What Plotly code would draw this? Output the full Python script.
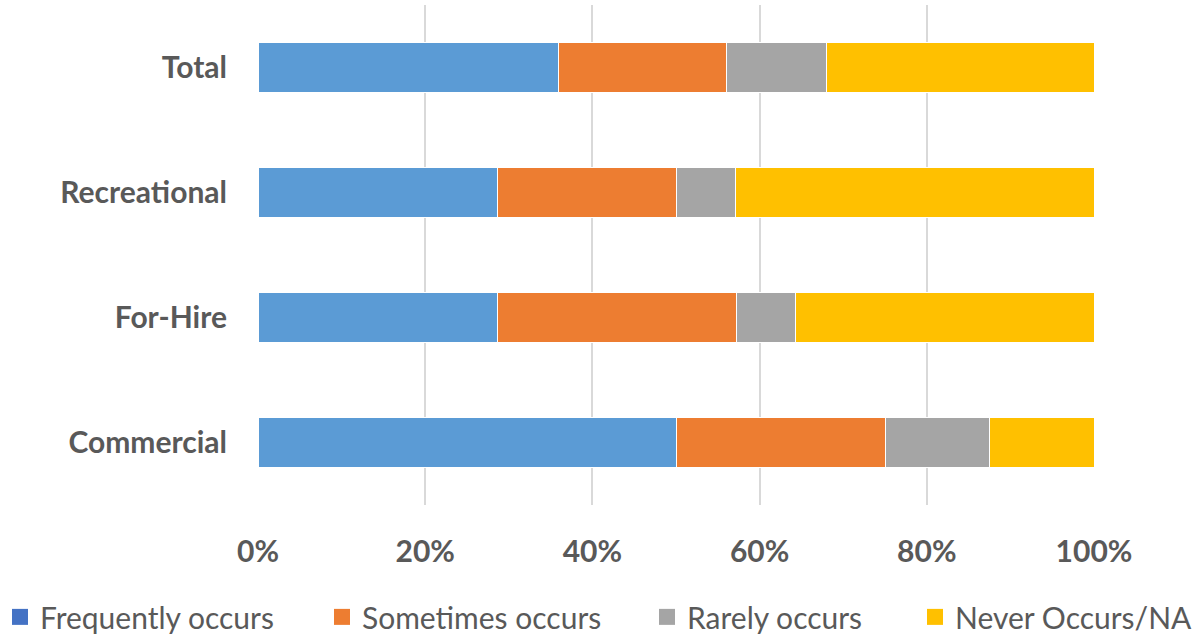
import plotly.graph_objects as go

categories = ["Commercial", "For-Hire", "Recreational", "Total"]
series_names = ["Frequently occurs", "Sometimes occurs", "Rarely occurs", "Never Occurs/NA"]
frequently = [50.0, 28.6, 28.6, 36.0]
sometimes = [25.0, 28.6, 21.4, 20.0]
rarely = [12.5, 7.1, 7.1, 12.0]
never = [12.5, 35.7, 42.9, 32.0]
bar_colors = ["#5B9BD5", "#ED7D31", "#A5A5A5", "#FFC000"]
legend_colors = ["#4472C4", "#ED7D31", "#A5A5A5", "#FFC000"]
legend_text_x = [40, 362, 687, 955]

FONT = "Lato"
GRAY = "#595959"

fig = go.Figure()
for name, vals, col in zip(series_names, [frequently, sometimes, rarely, never], bar_colors):
    fig.add_trace(go.Bar(
        y=categories, x=vals, name=name, orientation="h",
        marker=dict(color=col, line=dict(color="white", width=1)),
        showlegend=False, hoverinfo="x+y+name",
    ))

legend_layout = {}
for i, (name, col, tx) in enumerate(zip(series_names, legend_colors, legend_text_x)):
    lname = "legend" if i == 0 else f"legend{i+1}"
    fig.add_trace(go.Scatter(
        y=[None], x=[None], name=name, mode="markers",
        marker=dict(color=col, symbol="square", size=16, line=dict(width=0)),
        showlegend=True, legend=lname, hoverinfo="skip",
    ))
    legend_layout[lname] = dict(
        xref="container", yref="container",
        x=max(tx - 40, 0) / 1198, xanchor="left", y=0.027, yanchor="middle",
        font=dict(family=FONT, size=30, color=GRAY),
        bgcolor="rgba(0,0,0,0)", itemsizing="trace",
    )

fig.update_layout(
    barmode="stack",
    bargap=0.6,
    width=1198, height=634,
    margin=dict(l=258, r=104, t=5, b=129, autoexpand=False),
    plot_bgcolor="white", paper_bgcolor="white",
    font=dict(family=FONT, color=GRAY),
    xaxis=dict(
        type="linear",
        range=[0, 100], tickvals=[0, 20, 40, 60, 80, 100],
        ticktext=["0%", "20%", "40%", "60%", "80%", "100%"],
        showgrid=True, gridcolor="#D9D9D9", gridwidth=2,
        zeroline=False, showline=False,
        tickfont=dict(family=FONT, size=30, color=GRAY, weight="bold"),
        ticklabelstandoff=26, tickangle=0,
        fixedrange=True,
    ),
    yaxis=dict(
        type="category", categoryarray=categories, categoryorder="array",
        showgrid=False, zeroline=False, showline=False,
        tickfont=dict(family=FONT, size=30, color=GRAY, weight="bold"),
        ticklabelstandoff=30,
        range=[-0.5, 3.5],
    ),
    **legend_layout,
)
fig.write_html("out.html")
